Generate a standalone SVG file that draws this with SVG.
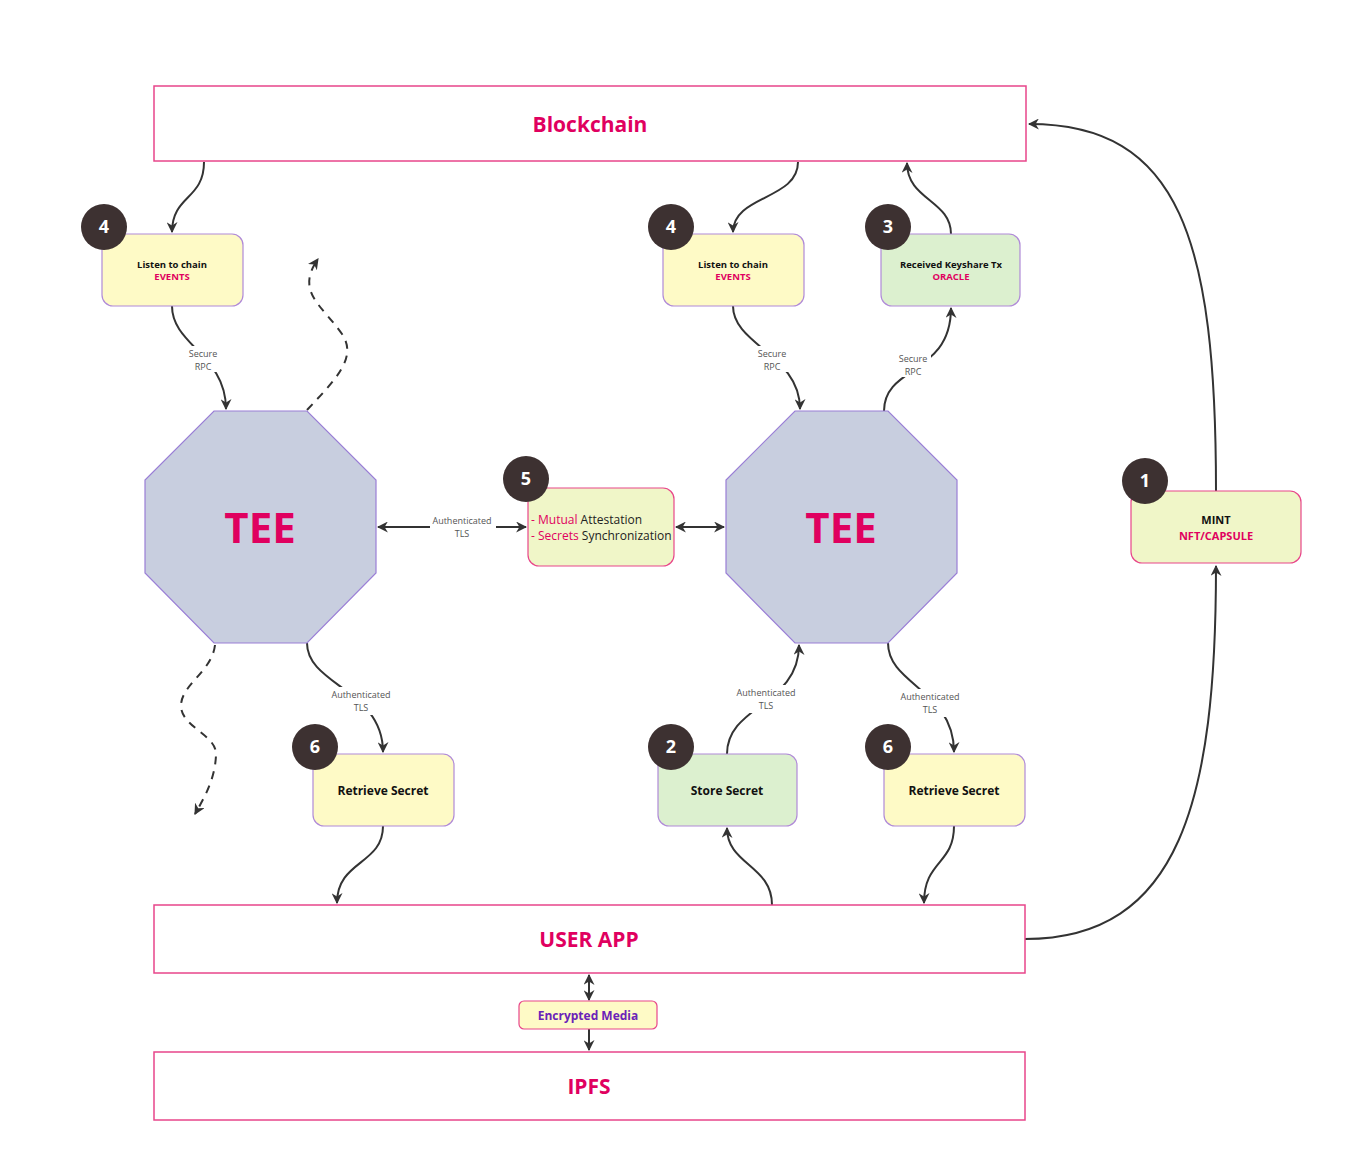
<svg xmlns="http://www.w3.org/2000/svg" width="1364" height="1176" viewBox="0 0 1364 1176">
<defs>
<marker id="ah" viewBox="0 0 10 10" refX="9" refY="5" markerWidth="5.5" markerHeight="5.5" orient="auto-start-reverse" markerUnits="strokeWidth">
<path d="M0,0 L10,5 L0,10 L3,5 z" fill="#333"/>
</marker>
<style>
.bar{fill:#fff;stroke:#e8468a;stroke-width:1.5}
.bartxt{font-family:"Open Sans","Noto Sans",sans-serif;font-weight:700;font-size:21px;fill:#e0005f;text-anchor:middle}
.tee{fill:#c8cedf;stroke:#9a7ed6;stroke-width:1.2}
.teetxt{font-family:"Open Sans","Noto Sans",sans-serif;font-weight:700;font-size:42px;fill:#e0005f;text-anchor:middle}
.yel{fill:#fefac6;stroke:#b08ad8;stroke-width:1.2}
.grn{fill:#dcf0cf;stroke:#b08ad8;stroke-width:1.2}
.lim{fill:#f0f6c8;stroke:#e8468a;stroke-width:1.2}
.badge{fill:#3d3131}
.bnum{font-family:"Open Sans","Noto Sans",sans-serif;font-weight:700;font-size:18px;fill:#fff;text-anchor:middle}
.t{font-family:"Open Sans","Noto Sans",sans-serif;font-weight:700;fill:#111;text-anchor:middle}
.pk{fill:#e0005f}
.reg{font-family:"Open Sans","Noto Sans",sans-serif;font-size:12px;fill:#222}
.conn{fill:none;stroke:#333;stroke-width:2;marker-end:url(#ah)}
.dash{fill:none;stroke:#333;stroke-width:2;stroke-dasharray:8,7;marker-end:url(#ah)}
.lbl{font-family:"Open Sans","Noto Sans",sans-serif;font-size:9px;fill:#555;text-anchor:middle}
</style>
</defs>
<rect width="1364" height="1176" fill="#fff"/>

<g id="connectors">
<path class="conn" d="M204,162 C204,200 172,195 172,232"/>
<path class="conn" d="M172,306 C172,345 226,355 226,409"/>
<path class="dash" d="M307,410 C335,380 358,358 342,334 C322,305 295,292 318,259"/>
<path class="dash" d="M215,645 C212,672 180,685 181,707 C183,728 217,735 216,755 C215,780 204,798 195,814"/>
<path class="conn" d="M798,162 C798,200 733,195 733,232"/>
<path class="conn" d="M733,306 C733,345 800,355 800,409"/>
<path class="conn" d="M884,411 C884,365 951,375 951,308"/>
<path class="conn" d="M951,234 C951,200 907,200 907,163"/>
<path class="conn" d="M1216,491 C1216,240 1180,124 1029,124"/>
<path class="conn" d="M1025,939 C1180,939 1216,800 1216,566"/>
<path class="conn" style="marker-start:url(#ah)" d="M378,527 L526,527"/>
<path class="conn" style="marker-start:url(#ah)" d="M676,527 L724,527"/>
<path class="conn" d="M307,643 C307,685 383,690 383,752"/>
<path class="conn" d="M383,826 C383,865 337,860 337,903"/>
<path class="conn" d="M772,905 C772,865 727,865 727,828"/>
<path class="conn" d="M727,754 C727,705 799,705 799,645"/>
<path class="conn" d="M888,643 C888,685 954,690 954,752"/>
<path class="conn" d="M954,826 C954,865 924,860 924,903"/>
<path class="conn" style="marker-start:url(#ah)" d="M589,975 L589,1000"/>
<path class="conn" d="M589,1029 L589,1050"/>
<g>
<rect x="185" y="346" width="36" height="26" fill="#fff"/>
<text class="lbl" x="203" y="357">Secure</text><text class="lbl" x="203" y="370">RPC</text>
<rect x="754" y="346" width="36" height="26" fill="#fff"/>
<text class="lbl" x="772" y="357">Secure</text><text class="lbl" x="772" y="370">RPC</text>
<rect x="895" y="351" width="36" height="26" fill="#fff"/>
<text class="lbl" x="913" y="362">Secure</text><text class="lbl" x="913" y="375">RPC</text>
<rect x="430" y="513" width="66" height="28" fill="#fff"/>
<text class="lbl" x="462" y="524">Authenticated</text><text class="lbl" x="462" y="537">TLS</text>
<rect x="328" y="687" width="66" height="28" fill="#fff"/>
<text class="lbl" x="361" y="698">Authenticated</text><text class="lbl" x="361" y="711">TLS</text>
<rect x="733" y="685" width="66" height="28" fill="#fff"/>
<text class="lbl" x="766" y="696">Authenticated</text><text class="lbl" x="766" y="709">TLS</text>
<rect x="897" y="689" width="66" height="28" fill="#fff"/>
<text class="lbl" x="930" y="700">Authenticated</text><text class="lbl" x="930" y="713">TLS</text>
</g>
</g>

<g id="blockchain"><rect class="bar" x="154" y="86" width="872" height="75"/><text class="bartxt" x="590" y="132">Blockchain</text></g>
<g id="userapp"><rect class="bar" x="154" y="905" width="871" height="68"/><text class="bartxt" x="589" y="947">USER APP</text></g>
<g id="ipfs"><rect class="bar" x="154" y="1052" width="871" height="68"/><text class="bartxt" x="589" y="1094">IPFS</text></g>
<g id="encrypted"><rect x="519" y="1001" width="138" height="28" rx="5" fill="#fefac6" stroke="#e8468a" stroke-width="1.2"/><text class="t" x="588" y="1020" font-size="12" style="fill:#6a22b8">Encrypted Media</text></g>

<g id="tee-left"><polygon class="tee" points="214,411 307,411 376,480 376,573 307,643 214,643 145,573 145,480"/><text class="teetxt" x="260" y="543">TEE</text></g>
<g id="tee-right"><polygon class="tee" points="795,411 888,411 957,480 957,573 888,643 795,643 726,573 726,480"/><text class="teetxt" x="841" y="543">TEE</text></g>

<g id="listen-left"><rect class="yel" x="102" y="234" width="141" height="72" rx="11"/><text class="t" x="172" y="268" font-size="9.5">Listen to chain</text><text class="t pk" x="172" y="280" font-size="9.5">EVENTS</text><circle class="badge" cx="104" cy="227" r="23"/><text class="bnum" x="104" y="233">4</text></g>
<g id="listen-right"><rect class="yel" x="663" y="234" width="141" height="72" rx="11"/><text class="t" x="733" y="268" font-size="9.5">Listen to chain</text><text class="t pk" x="733" y="280" font-size="9.5">EVENTS</text><circle class="badge" cx="671" cy="227" r="23"/><text class="bnum" x="671" y="233">4</text></g>
<g id="keyshare"><rect class="grn" x="881" y="234" width="139" height="72" rx="11"/><text class="t" x="951" y="268" font-size="9.5">Received Keyshare Tx</text><text class="t pk" x="951" y="280" font-size="9.5">ORACLE</text><circle class="badge" cx="888" cy="227" r="23"/><text class="bnum" x="888" y="233">3</text></g>
<g id="mutual"><rect class="lim" x="528" y="488" width="146" height="78" rx="11"/><text class="reg" x="531" y="524"><tspan class="pk">- Mutual</tspan> Attestation</text><text class="reg" x="531" y="540"><tspan class="pk">- Secrets</tspan> Synchronization</text><circle class="badge" cx="526" cy="479" r="23"/><text class="bnum" x="526" y="485">5</text></g>
<g id="mint"><rect class="lim" x="1131" y="491" width="170" height="72" rx="11"/><text class="t" x="1216" y="524" font-size="11">MINT</text><text class="t pk" x="1216" y="540" font-size="11">NFT/CAPSULE</text><circle class="badge" cx="1145" cy="481" r="23"/><text class="bnum" x="1145" y="487">1</text></g>
<g id="retrieve-left"><rect class="yel" x="313" y="754" width="141" height="72" rx="11"/><text class="t" x="383" y="795" font-size="12">Retrieve Secret</text><circle class="badge" cx="315" cy="747" r="23"/><text class="bnum" x="315" y="753">6</text></g>
<g id="store"><rect class="grn" x="658" y="754" width="139" height="72" rx="11"/><text class="t" x="727" y="795" font-size="12">Store Secret</text><circle class="badge" cx="671" cy="747" r="23"/><text class="bnum" x="671" y="753">2</text></g>
<g id="retrieve-right"><rect class="yel" x="884" y="754" width="141" height="72" rx="11"/><text class="t" x="954" y="795" font-size="12">Retrieve Secret</text><circle class="badge" cx="888" cy="747" r="23"/><text class="bnum" x="888" y="753">6</text></g>
</svg>
